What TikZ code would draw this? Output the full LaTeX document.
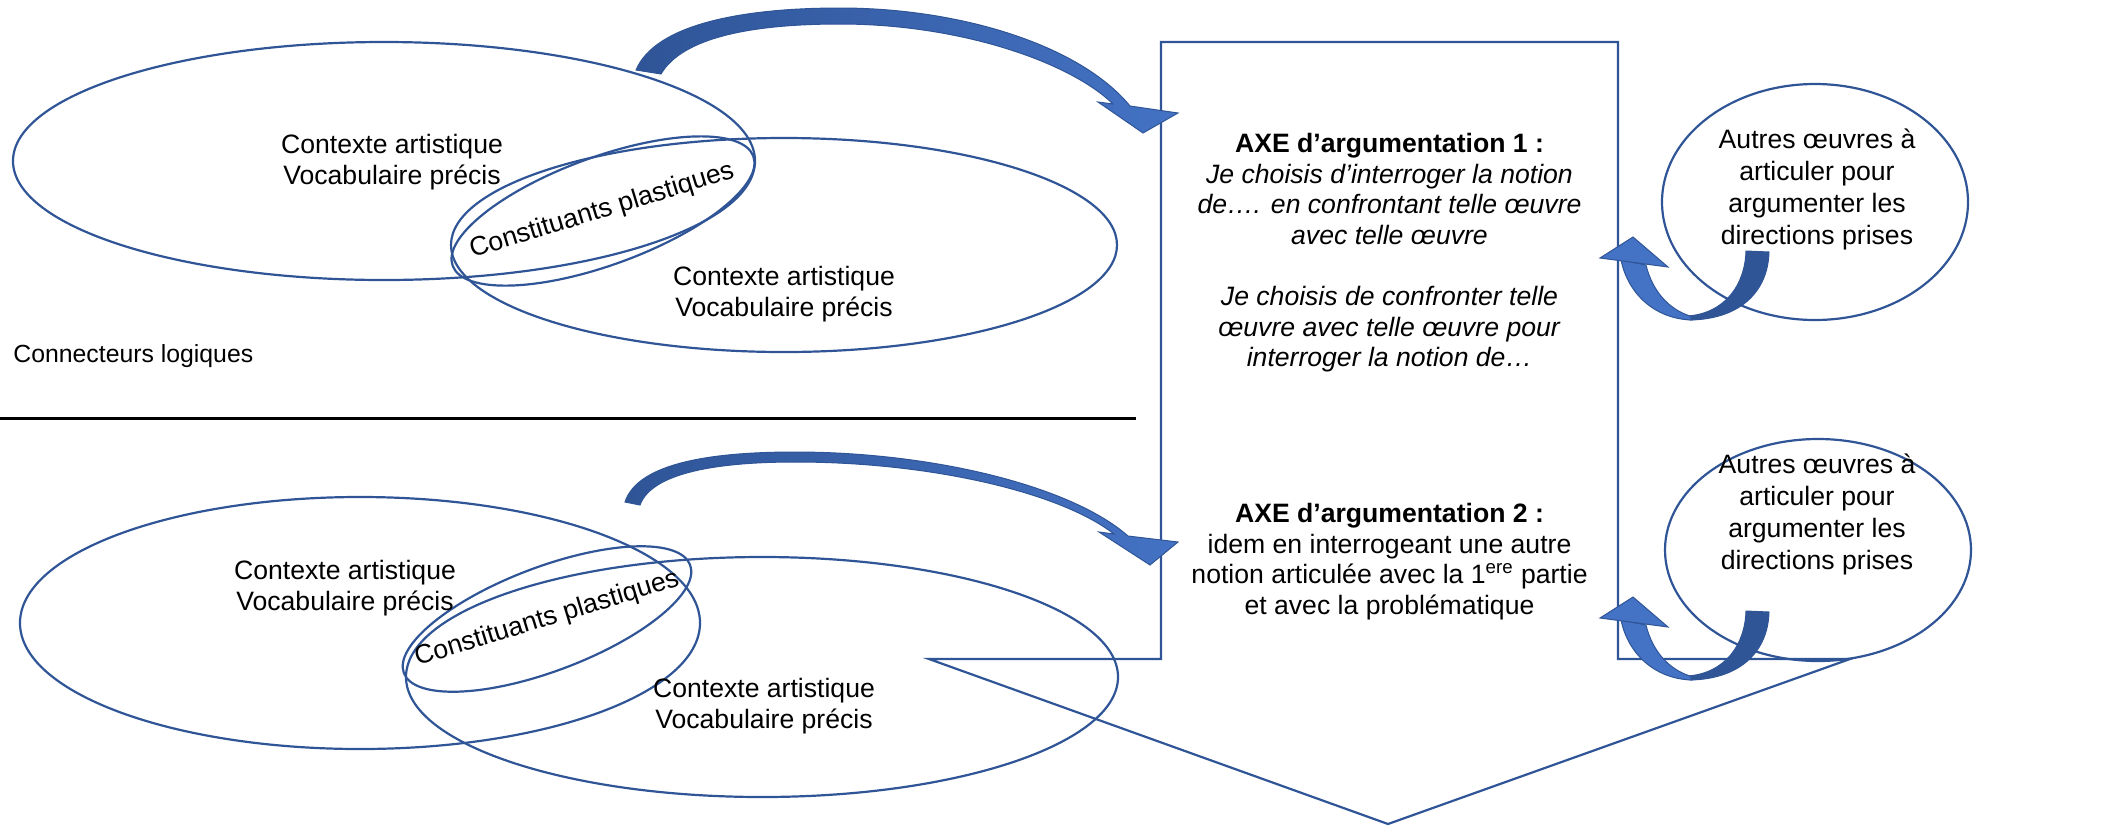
\documentclass[tikz,border=0pt]{standalone}
\usepackage{fontspec}
\setmainfont{Liberation Sans}
\usetikzlibrary{shapes.geometric}
\definecolor{ol}{HTML}{2F5597}
\definecolor{arL}{HTML}{4472C4}
\definecolor{arD}{HTML}{2F5597}
\begin{document}
\begin{tikzpicture}[x=0.5pt,y=-0.5pt,
  ell/.style={draw=ol, line width=1.1pt, ellipse, inner sep=0pt},
  txt/.style={font=\fontsize{13.3}{15.3}\selectfont, align=center, inner sep=0pt},
  rtxt/.style={font=\fontsize{13.3}{16}\selectfont, align=center, inner sep=0pt},
  stxt/.style={font=\fontsize{12.4}{14.4}\selectfont, align=center, inner sep=0pt},
  frame/.style={draw=ol, line width=1.1pt, line join=miter},
  bigarrow/.style={left color=arD, right color=arL, draw=ol, line width=0.5pt},
  lightpart/.style={fill=arL, draw=ol, line width=0.5pt},
  darkpart/.style={fill=arD, draw=ol, line width=0.5pt}]
\useasboundingbox (0,0) rectangle (2110,826);

% ---------- upper section ----------
\node[ell, minimum width=371pt, minimum height=119pt] (ellA) at (384,161) {};
\node[ell, minimum width=333pt, minimum height=107pt] (ellB) at (784,245) {};
\node[ell, minimum width=160pt, minimum height=54pt, rotate=20] (ellC) at (603,211) {};
\node[txt] (tA) at (392,162) {Contexte artistique\\Vocabulaire précis};
\node[txt] (tB) at (784,294) {Contexte artistique\\Vocabulaire précis};
\node[txt, rotate=17] (tC) at (602,211) {Constituants plastiques};
\node[stxt, anchor=west] (conn) at (13,356) {Connecteurs logiques};

\coordinate (sepL) at (0,418);
\coordinate (sepR) at (1136,418);
\draw[line width=1.5pt] (sepL) -- (sepR);

% ---------- lower section ----------
\node[ell, minimum width=340pt, minimum height=126pt] (ellA2) at (360,623) {};
\node[ell, minimum width=356pt, minimum height=120pt] (ellB2) at (762,677) {};
\node[ell, minimum width=153pt, minimum height=52pt, rotate=20.7] (ellC2) at (547,619) {};
\node[txt] (tA2) at (345,588) {Contexte artistique\\Vocabulaire précis};
\node[txt] (tB2) at (764,706) {Contexte artistique\\Vocabulaire précis};
\node[txt, rotate=17] (tC2) at (547,619) {Constituants plastiques};

% ---------- central callout ----------
\coordinate (bTL) at (1161,42);
\coordinate (bTR) at (1618,42);
\coordinate (bBR) at (1618,659);
\coordinate (wR) at (1850,659);
\coordinate (tip) at (1388,824);
\coordinate (wL) at (929,659);
\coordinate (bBL) at (1161,659);
\draw[frame] (bTL) -- (bTR) -- (bBR) -- (wR) -- (tip) -- (wL) -- (bBL) -- cycle;

\node[txt, anchor=north] (axe1) at (1389.5,133) {\textbf{AXE d’argumentation 1 :}\\
  \textit{Je choisis d’interroger la notion}\\
  \textit{de…. en confrontant telle œuvre}\\
  \textit{avec telle œuvre}\\[15.3pt]
  \textit{Je choisis de confronter telle}\\
  \textit{œuvre avec telle œuvre pour}\\
  \textit{interroger la notion de…}};
\node[txt, anchor=north] (axe2) at (1389.5,503) {\textbf{AXE d’argumentation 2 :}\\
  idem en interrogeant une autre\\
  notion articulée avec la 1\textsuperscript{ere} partie\\
  et avec la problématique};

% ---------- right ellipses ----------
\node[ell, minimum width=153pt, minimum height=118pt] (R1) at (1815,202) {};
\node[rtxt] (tR1) at (1817,189) {Autres œuvres à\\articuler pour\\argumenter les\\directions prises};
\node[ell, minimum width=153pt, minimum height=111pt] (R2) at (1818,550) {};
\node[rtxt] (tR2) at (1817,514) {Autres œuvres à\\articuler pour\\argumenter les\\directions prises};

% ---------- big curved arrows ----------
\shade[bigarrow] (636,70) .. controls (655,25) and (740,8) .. (840,8)
  .. controls (960,8) and (1080,45) .. (1130,106)
  -- (1178,113) -- (1143,133) -- (1098,102) -- (1113,104)
  .. controls (1070,62) and (960,24) .. (840,24)
  .. controls (750,24) and (682,38) .. (661,74) -- cycle;
\shade[bigarrow] (625,502) .. controls (638,462) and (715,452) .. (795,452)
  .. controls (930,452) and (1070,485) .. (1128,536)
  -- (1178,542) -- (1150,565) -- (1099,532) -- (1114,534)
  .. controls (1060,492) and (930,462) .. (795,462)
  .. controls (720,462) and (652,472) .. (640,505) -- cycle;

% ---------- small U-turn arrows ----------
\foreach \dy in {0,360}{
\begin{scope}[shift={(0,\dy)}]
  \filldraw[darkpart] (1690,320) .. controls (1742,319) and (1768,290) .. (1769,252)
     -- (1746,251) .. controls (1745,285) and (1725,313) .. (1688,316) -- cycle;
  \filldraw[lightpart] (1621,260) .. controls (1628,294) and (1655,319) .. (1692,320)
     -- (1690,316) .. controls (1668,309) and (1652,290) .. (1646,265) -- cycle;
  \filldraw[lightpart] (1633,237) -- (1600,258) -- (1668,267) -- cycle;
\end{scope}}
\end{tikzpicture}
\end{document}
